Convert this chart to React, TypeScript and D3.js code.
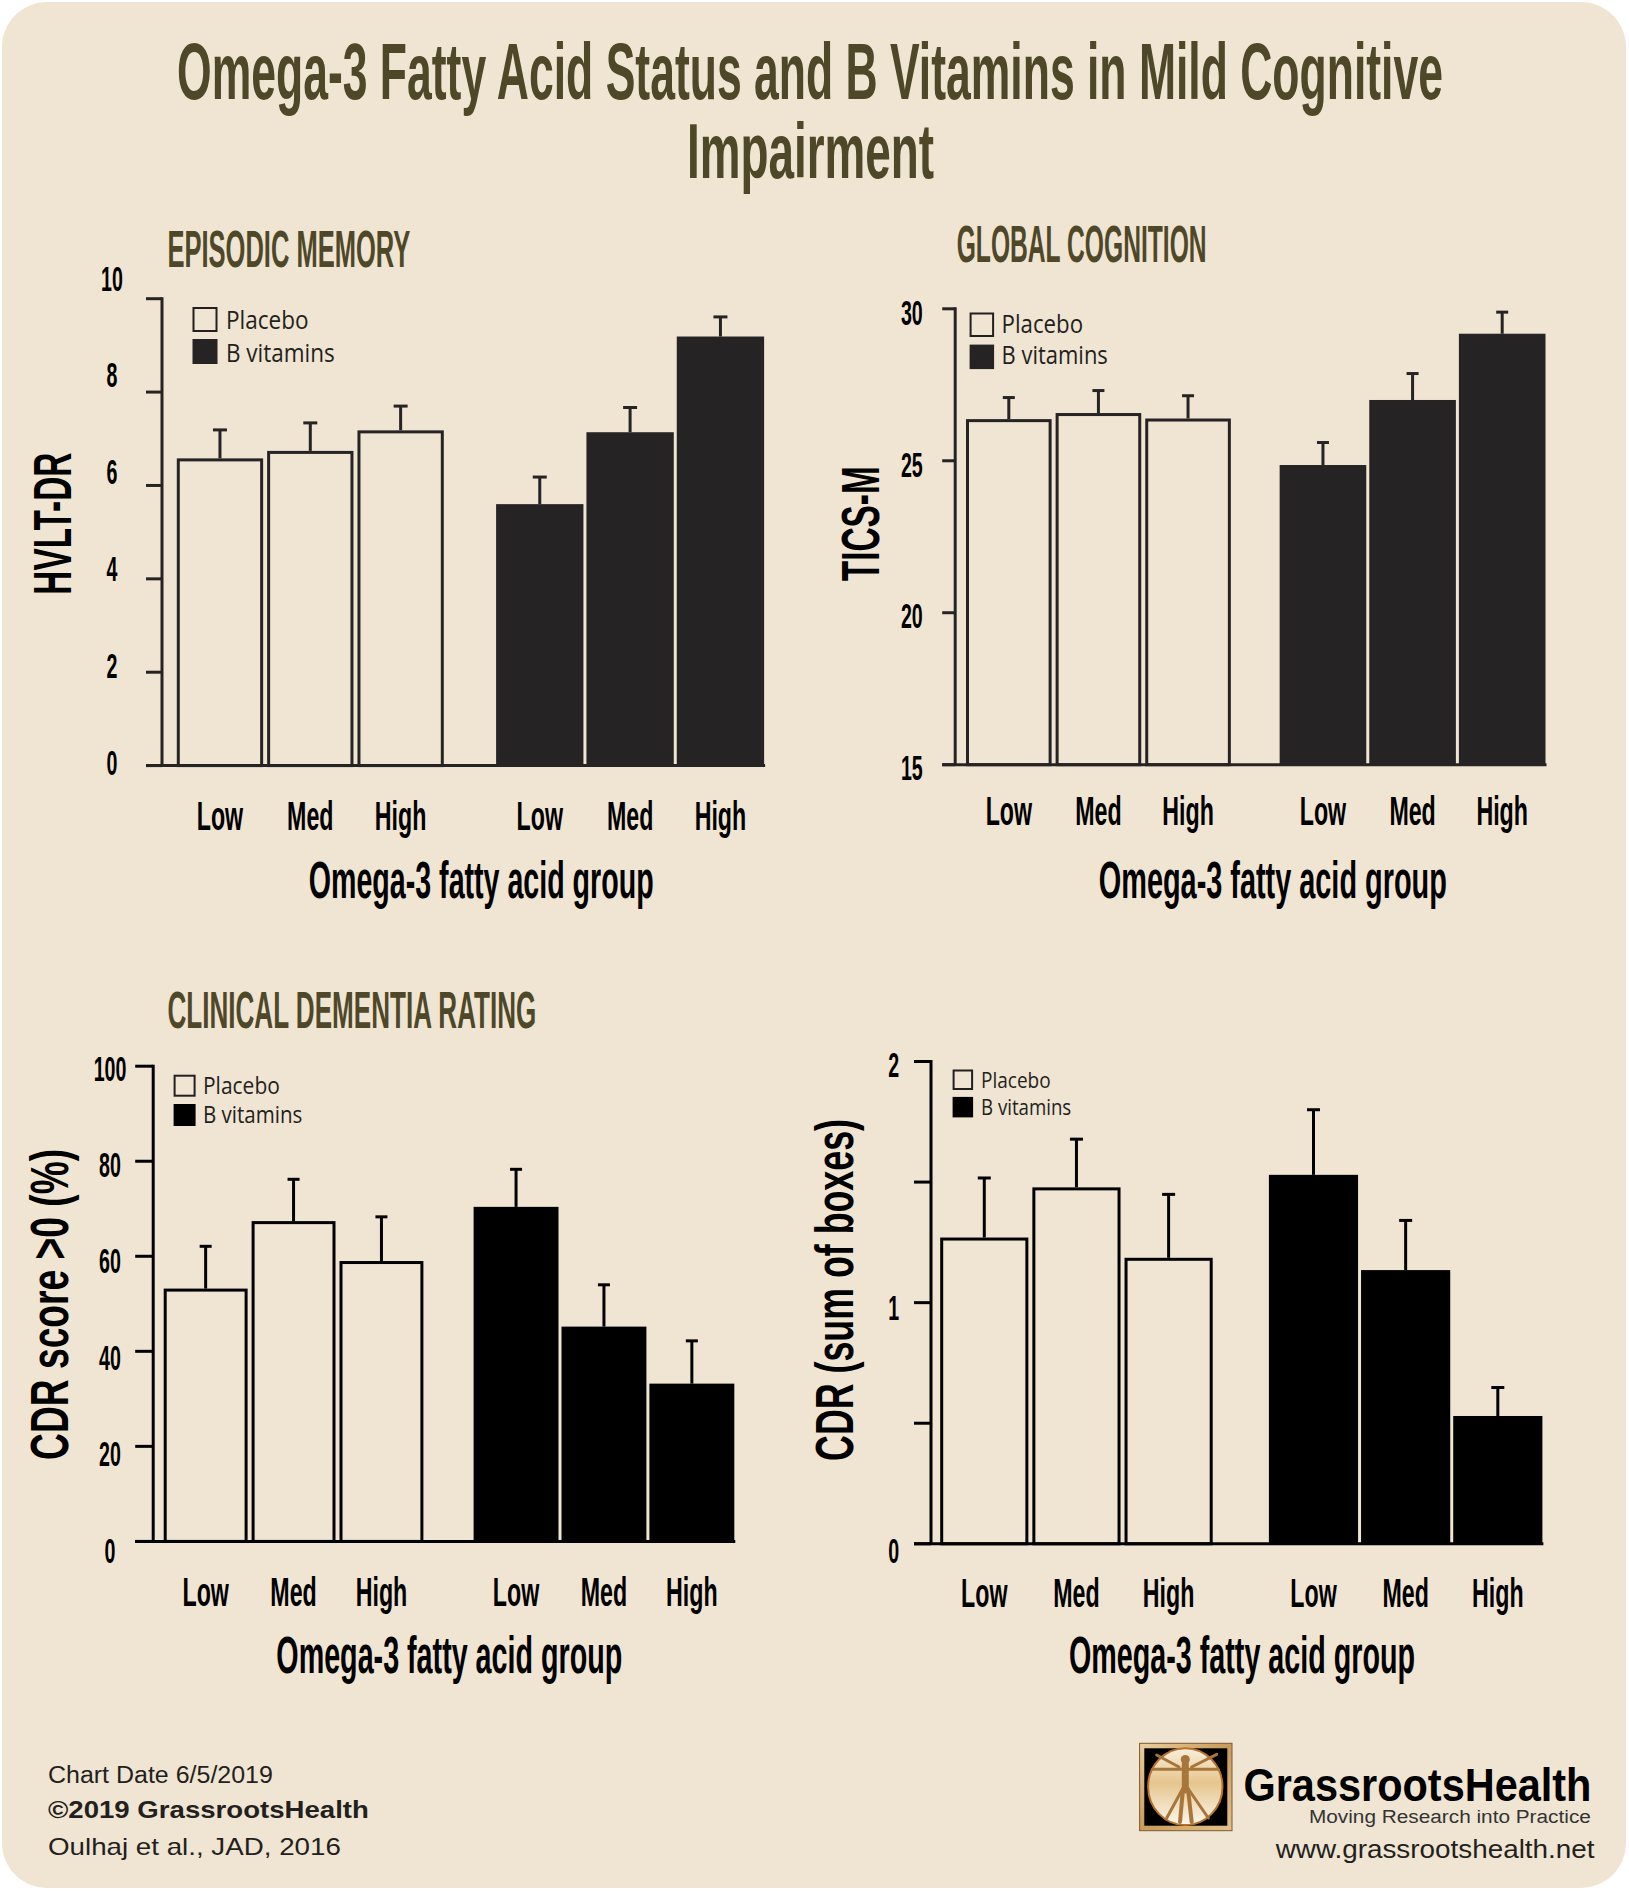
import React, { useLayoutEffect, useRef } from 'react';
import * as d3 from 'd3';

// ---------- DATA ----------
const omegaGroups = ['Low', 'Med', 'High'];
const treatments = ['Placebo', 'B vitamins'];

const episodicPlacebo = [6.58, 6.74, 7.18];
const episodicPlaceboErr = [0.61, 0.6, 0.52];
const episodicBvit = [5.6, 7.14, 9.19];
const episodicBvitErr = [0.58, 0.53, 0.42];
const episodicTicks = [0, 2, 4, 6, 8, 10];
const episodicTickLabels = ['0', '2', '4', '6', '8', '10'];

const globalPlacebo = [26.37, 26.57, 26.39];
const globalPlaceboErr = [0.71, 0.74, 0.75];
const globalBvit = [24.86, 27.0, 29.18];
const globalBvitErr = [0.74, 0.87, 0.71];
const globalTicks = [15, 20, 25, 30];
const globalTickLabels = ['15', '20', '25', '30'];

const cdrPctPlacebo = [53.2, 67.4, 59.0];
const cdrPctPlaceboErr = [8.9, 8.8, 9.3];
const cdrPctBvit = [70.4, 45.2, 33.2];
const cdrPctBvitErr = [7.9, 8.8, 9.0];
const cdrPctTicks = [0, 20, 40, 60, 80, 100];
const cdrPctTickLabels = ['0', '20', '40', '60', '80', '100'];

const cdrSumPlacebo = [1.27, 1.478, 1.186];
const cdrSumPlaceboErr = [0.247, 0.2, 0.263];
const cdrSumBvit = [1.53, 1.135, 0.53];
const cdrSumBvitErr = [0.27, 0.206, 0.118];
const cdrSumTicks = [0, 0.5, 1, 1.5, 2];
const cdrSumTickLabels = ['0', '', '1', '', '2'];

const mainTitle1 = 'Omega-3 Fatty Acid Status and B Vitamins in Mild Cognitive';
const mainTitle2 = 'Impairment';
const xAxisTitle = 'Omega-3 fatty acid group';

// ---------- STYLE ----------
const BG = '#F0E5D3';
const OLIVE = '#4E4829';
const COND = "'Liberation Sans', Arial, sans-serif";
const LEG = "'Open Sans', 'Noto Sans', sans-serif";
const ARIAL = "'Liberation Sans', Arial, sans-serif";

const panels = [
  {
    title: 'EPISODIC MEMORY', yTitle: 'HVLT-DR',
    values: [episodicPlacebo, episodicBvit], errs: [episodicPlaceboErr, episodicBvitErr],
    domain: [0, 10], ticks: episodicTicks, tickLabels: episodicTickLabels,
    L: { axisX: 162, yTop: 298.7, yBottom: 765.6, tickLen: 16, barL: 176.8, barR: 763.6, gap: 52.8, barGap: 4,
      labelX: 112, labelRange: [762, 278], titleX: 167.4, titleY: 267, titleW: 243,
      yTitleX: 70.6, yTitleY: 523.7, yTitleW: 142, xTickY: 830, xTitleX: 481.2, xTitleY: 898, xTitleW: 345,
      leg: { boxX: 192.5, boxY: [307, 339], size: 25, textX: 226, base: [329.5, 361.6], w: [82.6, 108.8], fs: 25 },
      dark: '#262324', axis: '#262324', capW: 14 },
  },
  {
    title: 'GLOBAL COGNITION', yTitle: 'TICS-M',
    values: [globalPlacebo, globalBvit], errs: [globalPlaceboErr, globalBvitErr],
    domain: [15, 30], ticks: globalTicks, tickLabels: globalTickLabels,
    L: { axisX: 955.2, yTop: 308.8, yBottom: 764.7, tickLen: 13, barL: 966, barR: 1545, gap: 49.3, barGap: 4,
      labelX: 911.8, labelRange: [767, 312.5], titleX: 956.7, titleY: 262.5, titleW: 250,
      yTitleX: 879.3, yTitleY: 523.7, yTitleW: 115, xTickY: 825.3, xTitleX: 1272.8, xTitleY: 898, xTitleW: 348,
      leg: { boxX: 969.6, boxY: [312.5, 344.6], size: 24.5, textX: 1001.6, base: [333, 364.4], w: [81.5, 106.3], fs: 25 },
      dark: '#262324', axis: '#262324', capW: 12 },
  },
  {
    title: 'CLINICAL DEMENTIA RATING', yTitle: 'CDR score >0 (%)',
    values: [cdrPctPlacebo, cdrPctBvit], errs: [cdrPctPlaceboErr, cdrPctBvitErr],
    domain: [0, 100], ticks: cdrPctTicks, tickLabels: cdrPctTickLabels,
    L: { axisX: 153.2, yTop: 1066.2, yBottom: 1541.4, tickLen: 18, barL: 163.7, barR: 733.8, gap: 50.7, barGap: 4,
      labelX: 110, labelRange: [1550, 1068], titleX: 167.4, titleY: 1028.4, titleW: 369,
      yTitleX: 68, yTitleY: 1304.4, yTitleW: 311, xTickY: 1605.6, xTitleX: 449.3, xTitleY: 1672.6, xTitleW: 346,
      leg: { boxX: 173.6, boxY: [1074.7, 1104], size: 22, textX: 203, base: [1094.5, 1122.8], w: [76.9, 99.4], fs: 23 },
      dark: '#000000', axis: '#000000', capW: 12 },
  },
  {
    title: '', yTitle: 'CDR (sum of boxes)',
    values: [cdrSumPlacebo, cdrSumBvit], errs: [cdrSumPlaceboErr, cdrSumBvitErr],
    domain: [0, 2], ticks: cdrSumTicks, tickLabels: cdrSumTickLabels,
    L: { axisX: 931, yTop: 1061.5, yBottom: 1543.8, tickLen: 17, barL: 940.2, barR: 1541.9, gap: 56.7, barGap: 4,
      labelX: 893.8, labelRange: [1550, 1064], titleX: 0, titleY: 0, titleW: 0,
      yTitleX: 852.5, yTitleY: 1290, yTitleW: 342, xTickY: 1606.5, xTitleX: 1242, xTitleY: 1673.5, xTitleW: 346,
      leg: { boxX: 952.6, boxY: [1069.5, 1096.9], size: 20.5, textX: 981, base: [1088.4, 1114.8], w: [69.7, 90.3], fs: 21 },
      dark: '#000000', axis: '#000000', capW: 13 },
  },
];

// Text squeezed horizontally (about its anchor point) to a given rendered width.
function FitText({ x, y, text, size, width, anchor = 'start', fill = '#000', weight = 700, family = COND }: any) {
  const ref = useRef<SVGTextElement>(null);
  useLayoutEffect(() => {
    const el = ref.current;
    if (!el) return;
    el.removeAttribute('transform');
    const natural = el.getComputedTextLength();
    if (natural > 0) {
      const s = width / natural;
      el.setAttribute('transform', `translate(${x},${y}) scale(${s},1) translate(${-x},${-y})`);
    }
  }, [x, y, text, size, width, anchor, weight, family]);
  return (
    <text ref={ref} x={x} y={y} fontSize={size} fontWeight={weight} fontFamily={family} fill={fill}
      textAnchor={anchor}>{text}</text>
  );
}

function Panel({ p }: any) {
  const L = p.L;
  const y = d3.scaleLinear().domain(p.domain).range([L.yBottom, L.yTop]);
  const yLab = d3.scaleLinear().domain(p.domain).range(L.labelRange);
  const span = L.barR - L.barL;
  const outer = d3.scaleBand().domain(treatments).range([L.barL, L.barR])
    .paddingInner((2 * L.gap) / (span + L.gap)).paddingOuter(0);
  const bw = outer.bandwidth();
  const inner = d3.scaleBand().domain(omegaGroups).range([0, bw])
    .paddingInner((3 * L.barGap) / (bw + L.barGap)).paddingOuter(0);
  const iw = inner.bandwidth();
  const axisC = L.axis;
  const digitFs = 35;

  return (
    <g>
      {p.title && (
        <FitText x={L.titleX} y={L.titleY} text={p.title} size={51} width={L.titleW} fill={OLIVE} />
      )}
      {/* bars */}
      {treatments.map((t, si) =>
        omegaGroups.map((g, gi) => {
          const v = p.values[si][gi];
          const e = p.errs[si][gi];
          const x0 = (outer(t) as number) + (inner(g) as number);
          const cx = x0 + iw / 2;
          const yv = y(v);
          const ye = y(v + e);
          return (
            <g key={t + g}>
              <line x1={cx} x2={cx} y1={yv} y2={ye} stroke={axisC} strokeWidth={3} />
              <line x1={cx - L.capW / 2} x2={cx + L.capW / 2} y1={ye} y2={ye} stroke={axisC} strokeWidth={3} />
              {si === 0 ? (
                <rect x={x0 + 1.5} y={yv + 1.5} width={iw - 3} height={L.yBottom - yv - 1.5}
                  fill="none" stroke={axisC} strokeWidth={3} />
              ) : (
                <rect x={x0 - 0.5} y={yv} width={iw + 1} height={L.yBottom - yv} fill={L.dark} />
              )}
              <text transform={`translate(${cx},${L.xTickY}) scale(0.58,1)`} textAnchor="middle"
                fontFamily={COND} fontWeight={700} fontSize={40} fill="#000">{g}</text>
            </g>
          );
        })
      )}
      {/* axes */}
      <line x1={L.axisX} x2={L.axisX} y1={L.yTop - 1.5} y2={L.yBottom} stroke={axisC} strokeWidth={3} />
      <line x1={L.axisX - L.tickLen} x2={L.barR + 1.5} y1={L.yBottom} y2={L.yBottom} stroke={axisC} strokeWidth={3} />
      {p.ticks.map((t: number, i: number) => (
        <g key={t}>
          <line x1={L.axisX - L.tickLen} x2={L.axisX} y1={y(t)} y2={y(t)} stroke={axisC} strokeWidth={3} />
          {p.tickLabels[i] && (
            <text transform={`translate(${L.labelX},${yLab(t) + 0.358 * digitFs}) scale(0.56,1)`}
              textAnchor="middle" fontFamily={COND} fontWeight={700} fontSize={digitFs} fill="#000">
              {p.tickLabels[i]}
            </text>
          )}
        </g>
      ))}
      {/* y title */}
      <g transform={`translate(${L.yTitleX},${L.yTitleY}) rotate(-90)`}>
        <FitText x={0} y={0} text={p.yTitle} size={54} width={L.yTitleW} anchor="middle" />
      </g>
      {/* x title */}
      <FitText x={L.xTitleX} y={L.xTitleY} text={xAxisTitle} size={52} width={L.xTitleW} anchor="middle" />
      {/* legend */}
      {treatments.map((t, i) => (
        <g key={t}>
          <rect x={L.leg.boxX + 1} y={L.leg.boxY[i] + 1} width={L.leg.size - 2} height={L.leg.size - 2}
            fill={i === 0 ? 'none' : L.dark} stroke={i === 0 ? '#231F20' : L.dark} strokeWidth={2} />
          <FitText x={L.leg.textX} y={L.leg.base[i]} text={t} size={L.leg.fs} width={L.leg.w[i]}
            weight={400} family={LEG} fill="#231F20" />
        </g>
      ))}
    </g>
  );
}

function Logo() {
  return (
    <g>
      <defs>
        <linearGradient id="logoFrame" x1="0" y1="0" x2="1" y2="1">
          <stop offset="0" stopColor="#E9CFA0" />
          <stop offset="0.5" stopColor="#C99A5B" />
          <stop offset="1" stopColor="#E4C28C" />
        </linearGradient>
        <linearGradient id="logoOval" x1="0" y1="0" x2="0" y2="1">
          <stop offset="0" stopColor="#F7EFDD" />
          <stop offset="0.45" stopColor="#E6C58E" />
          <stop offset="1" stopColor="#FBF6EC" />
        </linearGradient>
      </defs>
      <rect x={1139.6} y={1743.3} width={92.4} height={87.4} fill="url(#logoFrame)" stroke="#7A5A32" strokeWidth={1} />
      <rect x={1144.3} y={1748.3} width={83} height={77.4} fill="#000" />
      <ellipse cx={1185.3} cy={1786.7} rx={37.2} ry={38.4} fill="url(#logoOval)" stroke="#B8732A" strokeWidth={2} />
      <g stroke="#A8763A" strokeLinecap="round" fill="none">
        <line x1={1185.3} y1={1764} x2={1185.3} y2={1790} strokeWidth={7} />
        <line x1={1179} y1={1767} x2={1156.7} y2={1755} strokeWidth={3} />
        <line x1={1191.6} y1={1767} x2={1216.7} y2={1754.3} strokeWidth={3} />
        <line x1={1153} y1={1769.3} x2={1218} y2={1769.3} strokeWidth={3} />
        <line x1={1183} y1={1789} x2={1180} y2={1822} strokeWidth={4} />
        <line x1={1188} y1={1789} x2={1191.7} y2={1822} strokeWidth={4} />
        <line x1={1182} y1={1790} x2={1166.7} y2={1818} strokeWidth={3} />
        <line x1={1189} y1={1790} x2={1208.3} y2={1818} strokeWidth={3} />
      </g>
      <circle cx={1185.3} cy={1759.5} r={4.5} fill="#A8763A" />
    </g>
  );
}

export default function App() {
  return (
    <svg width={1629} height={1891} viewBox="0 0 1629 1891"
      style={{ position: 'absolute', left: 0, top: 0, display: 'block', background: '#fff' }}>
      <rect x={2} y={2} width={1624} height={1886} rx={45} ry={45} fill={BG} />
      <FitText x={810} y={99} text={mainTitle1} size={79} width={1266} anchor="middle" fill={OLIVE} />
      <FitText x={810.5} y={178} text={mainTitle2} size={77} width={247} anchor="middle" fill={OLIVE} />
      {panels.map((p, i) => <Panel key={i} p={p} />)}
      {/* footer */}
      <FitText x={48} y={1783} text="Chart Date 6/5/2019" size={23} width={225} weight={400} family={ARIAL} fill="#231F20" />
      <FitText x={48} y={1818.5} text="©2019 GrassrootsHealth" size={23} width={321} weight={700} family={ARIAL} fill="#231F20" />
      <FitText x={48} y={1855.5} text="Oulhaj et al., JAD, 2016" size={23} width={293} weight={400} family={ARIAL} fill="#231F20" />
      <Logo />
      <FitText x={1243.5} y={1801} text="GrassrootsHealth" size={46} width={348} weight={700} family={ARIAL} fill="#000" />
      <FitText x={1309} y={1823.5} text="Moving Research into Practice" size={19} width={282} weight={400} family={ARIAL} fill="#333" />
      <FitText x={1275.7} y={1858} text="www.grassrootshealth.net" size={25} width={319} weight={400} family={ARIAL} fill="#231F20" />
    </svg>
  );
}
